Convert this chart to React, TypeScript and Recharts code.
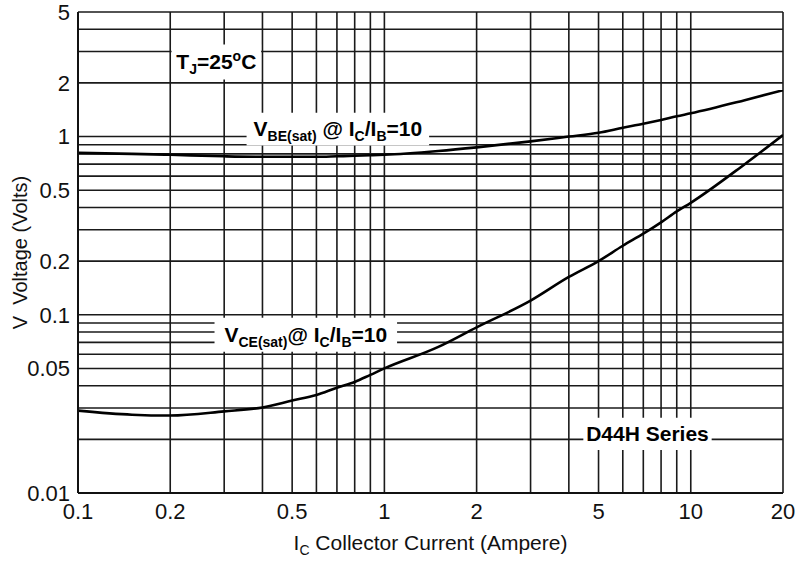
import { LineChart, Line, XAxis, YAxis, CartesianGrid, ReferenceArea } from 'recharts';

// collector current (A) and the two saturation voltages (V)
const current = [0.1, 0.15, 0.2, 0.3, 0.4, 0.5, 0.6, 0.7, 0.8, 0.9, 1, 1.5, 2, 3, 4, 5, 6, 7, 8, 9, 10, 15, 20];
const vbeSat = [0.81, 0.8, 0.79, 0.775, 0.77, 0.77, 0.77, 0.775, 0.78, 0.785, 0.79, 0.83, 0.87, 0.94, 1.0, 1.05, 1.12, 1.18, 1.24, 1.3, 1.35, 1.6, 1.82];
const vceSat = [0.029, 0.0275, 0.0272, 0.0287, 0.0302, 0.033, 0.0355, 0.039, 0.042, 0.046, 0.05, 0.066, 0.085, 0.12, 0.163, 0.2, 0.244, 0.285, 0.33, 0.38, 0.425, 0.7, 1.02];

const xTicks = [0.1, 0.2, 0.5, 1, 2, 5, 10, 20];
const yTicks = [0.01, 0.05, 0.1, 0.2, 0.5, 1, 2, 5];
const xGrid = [0.2, 0.3, 0.4, 0.5, 0.6, 0.7, 0.8, 0.9, 1, 2, 3, 4, 5, 6, 7, 8, 9, 10, 20];
const yGrid = [0.02, 0.03, 0.04, 0.05, 0.06, 0.07, 0.08, 0.09, 0.1, 0.2, 0.3, 0.4, 0.5, 0.6, 0.7, 0.8, 0.9, 1, 2, 3, 4, 5];

type Part = [string, ('sub' | 'sup')?];

// annotation boxes (data coords) and their text
const notes: { key: string; x: [number, number]; y: [number, number]; parts: Part[] }[] = [
  { key: 'tj', x: [0.202, 0.396], y: [2.09, 3.29], parts: [['T'], ['J', 'sub'], ['=25'], ['o', 'sup'], ['C']] },
  { key: 'vbe', x: [0.355, 1.4], y: [0.89, 1.36], parts: [['V'], ['BE(sat)', 'sub'], ['\u00a0@\u00a0I'], ['C', 'sub'], ['/I'], ['B', 'sub'], ['=10']] },
  { key: 'vce', x: [0.279, 1.1], y: [0.062, 0.0962], parts: [['V'], ['CE(sat)', 'sub'], ['@\u00a0I'], ['C', 'sub'], ['/I'], ['B', 'sub'], ['=10']] },
  { key: 'd44h', x: [4.46, 11.7], y: [0.01745, 0.0264], parts: [['D44H Series']] },
];

const data = current.map((ic, i) => ({ ic, vbe: vbeSat[i], vce: vceSat[i] }));

const FONT = '"Liberation Sans", Arial, Helvetica, sans-serif';

function Rich({ vb, parts }: { vb: any; parts: Part[] }) {
  let shift = 0;
  const spans = parts.map(([t, kind], i) => {
    const target = kind === 'sub' ? 5 : kind === 'sup' ? -8 : 0;
    const dy = target - shift;
    shift = target;
    return (
      <tspan key={i} dy={dy} fontSize={kind ? 14 : 21}>
        {t}
      </tspan>
    );
  });
  return (
    <text
      x={vb.x + vb.width / 2}
      y={vb.y + vb.height / 2 + 7}
      textAnchor="middle"
      fontWeight="bold"
      fontFamily={FONT}
      fill="#000"
    >
      {spans}
    </text>
  );
}

export default function App() {
  return (
    <div style={{ position: 'absolute', left: 0, top: 0, width: 805, height: 562, background: '#fff' }}>
      <LineChart width={805} height={562} data={data} margin={{ top: 12, right: 22, left: 0, bottom: 0 }}>
        <CartesianGrid
          stroke="#1a1a1a"
          strokeWidth={1.6}
          horizontalValues={yGrid}
          verticalValues={xGrid}
        />
        <XAxis
          dataKey="ic"
          type="number"
          scale="log"
          domain={[0.1, 20]}
          allowDataOverflow
          ticks={xTicks}
          interval={0}
          height={69}
          tickLine={false}
          tickSize={0}
          tickMargin={10}
          axisLine={{ stroke: '#111', strokeWidth: 2 }}
          tick={{ fill: '#111', fontSize: 22, fontFamily: FONT }}
          label={(p: any) => (
            <text x={p.viewBox.x + p.viewBox.width / 2} y={550} textAnchor="middle" fontSize={21} fontFamily={FONT} fill="#111">
              <tspan>I</tspan>
              <tspan dy={5} fontSize={14}>C</tspan>
              <tspan dy={-5}>{'\u00a0Collector Current (Ampere)'}</tspan>
            </text>
          )}
        />
        <YAxis
          type="number"
          scale="log"
          domain={[0.01, 5]}
          allowDataOverflow
          ticks={yTicks}
          interval={0}
          width={78}
          tickLine={false}
          tickSize={0}
          tickMargin={8}
          axisLine={{ stroke: '#111', strokeWidth: 2 }}
          tick={{ fill: '#111', fontSize: 22, fontFamily: FONT }}
          label={(p: any) => {
            const cx = 20;
            const cy = p.viewBox.y + p.viewBox.height / 2;
            return (
              <text
                x={cx}
                y={cy}
                transform={`rotate(-90, ${cx}, ${cy})`}
                textAnchor="middle"
                dominantBaseline="central"
                fontSize={20}
                fontFamily={FONT}
                fill="#111"
              >
                {'V\u00a0\u00a0Voltage (Volts)'}
              </text>
            );
          }}
        />
        {notes.map((n) => (
          <ReferenceArea
            key={n.key}
            x1={n.x[0]}
            x2={n.x[1]}
            y1={n.y[0]}
            y2={n.y[1]}
            fill="#fff"
            fillOpacity={1}
            stroke="none"
            label={(p: any) => <Rich vb={p.viewBox} parts={n.parts} />}
          />
        ))}
        <Line type="monotone" dataKey="vbe" stroke="#000" strokeWidth={2.6} dot={false} isAnimationActive={false} />
        <Line type="monotone" dataKey="vce" stroke="#000" strokeWidth={2.6} dot={false} isAnimationActive={false} />
      </LineChart>
    </div>
  );
}
